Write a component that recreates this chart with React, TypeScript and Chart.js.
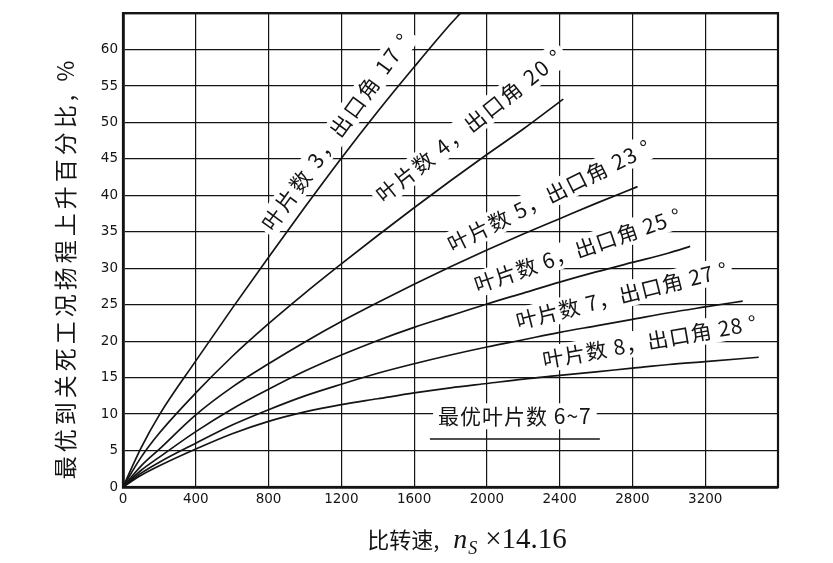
import { useEffect, useRef } from "react"
import { Chart, registerables } from "chart.js"

Chart.register(...registerables)

// specific speed (ns x 14.16) and head rise (%)
const speeds3 = [0, 100, 200, 400, 600, 800, 1000, 1200, 1400, 1600, 1800, 1855]
const rise3 = [0, 5.4, 9.9, 17.3, 24.5, 31.5, 38.4, 45.1, 51.5, 57.6, 63.5, 65]
const speeds4 = [0, 100, 200, 400, 600, 800, 1000, 1200, 1400, 1600, 1800, 2000, 2200, 2420]
const rise4 = [0, 4.1, 7.4, 12.9, 17.9, 22.4, 26.6, 30.6, 34.5, 38.3, 42, 45.6, 49.1, 53.2]
const speeds5 = [0, 100, 200, 400, 600, 800, 1000, 1200, 1400, 1600, 1800, 2000, 2200, 2400, 2600, 2828]
const rise5 = [0, 2.9, 5.2, 9.9, 13.7, 16.9, 19.9, 22.7, 25.3, 27.8, 30.2, 32.5, 34.7, 36.8, 38.9, 41.2]
const speeds6 = [0, 100, 200, 400, 600, 800, 1000, 1200, 1400, 1600, 1800, 2000, 2200, 2400, 2600, 2800, 3000, 3117]
const rise6 = [0, 2.3, 4.1, 7.6, 10.7, 13.4, 15.9, 18.1, 20.1, 21.9, 23.5, 25.1, 26.6, 28.1, 29.5, 30.8, 32.1, 33]
const speeds7 = [0, 100, 200, 400, 600, 800, 1000, 1200, 1400, 1600, 1800, 2000, 2200, 2400, 2600, 2800, 3000, 3200, 3406]
const rise7 = [0, 1.9, 3.4, 6, 8.5, 10.6, 12.5, 14.1, 15.6, 16.9, 18.1, 19.2, 20.2, 21.2, 22.1, 23, 23.9, 24.7, 25.5]
const speeds8 = [0, 100, 200, 400, 600, 800, 1000, 1200, 1400, 1600, 1800, 2000, 2200, 2400, 2600, 2800, 3000, 3200, 3494]
const rise8 = [0, 1.6, 2.9, 5.2, 7.3, 9, 10.3, 11.3, 12.1, 12.9, 13.6, 14.2, 14.8, 15.3, 15.8, 16.3, 16.8, 17.2, 17.8]

const bladeCounts = [3, 4, 5, 6, 7, 8]
const exitAngles = [17, 20, 23, 25, 27, 28]
const bestBlades = "6~7"

const curveSpeeds = [speeds3, speeds4, speeds5, speeds6, speeds7, speeds8]
const curveRises = [rise3, rise4, rise5, rise6, rise7, rise8]

// where each curve label sits (data coords), its slant on screen and letter spacing
const labelSpots = [
  { ns: 1175, rise: 48.8, angle: -54, spacing: 2.5 },
  { ns: 1905, rise: 49.6, angle: -38.5, spacing: 2 },
  { ns: 2345, rise: 40.0, angle: -26.5, spacing: 1.5 },
  { ns: 2500, rise: 32.5, angle: -19, spacing: 1 },
  { ns: 2742, rise: 26.3, angle: -14, spacing: 1 },
  { ns: 2896, rise: 20.0, angle: -10, spacing: 1 },
]

const INK = "#141414"
const CJK = '"Noto Sans CJK SC"'

const annotations = {
  id: "annotations",
  beforeDatasetsDraw(chart: any) {
    const { ctx, scales } = chart
    const x = scales.x
    const y = scales.y

    ctx.save()
    ctx.font = `21px ${CJK}`
    ctx.textAlign = "center"
    ctx.textBaseline = "middle"
    labelSpots.forEach((spot, i) => {
      const text = `叶片数 ${bladeCounts[i]}，出口角 ${exitAngles[i]} °`
      ctx.save()
      ctx.letterSpacing = `${spot.spacing}px`
      ctx.translate(x.getPixelForValue(spot.ns), y.getPixelForValue(spot.rise))
      ctx.rotate((spot.angle * Math.PI) / 180)
      const w = ctx.measureText(text).width
      ctx.fillStyle = "#fff"
      ctx.fillRect(-w / 2 - 4, -13, w + 8, 26)
      ctx.fillStyle = INK
      ctx.fillText(text, 0, 0)
      ctx.restore()
    })

    // best blade count note with its underline
    ctx.letterSpacing = "1px"
    const bx = x.getPixelForValue(2154)
    const by = y.getPixelForValue(9.7)
    const note = `最优叶片数 ${bestBlades}`
    const nw = ctx.measureText(note).width
    ctx.fillStyle = "#fff"
    ctx.fillRect(bx - nw / 2 - 5, by - 13, nw + 10, 26)
    ctx.fillStyle = INK
    ctx.fillText(note, bx, by)
    ctx.strokeStyle = INK
    ctx.lineWidth = 1.5
    ctx.beginPath()
    ctx.moveTo(x.getPixelForValue(1687), y.getPixelForValue(6.6))
    ctx.lineTo(x.getPixelForValue(2621), y.getPixelForValue(6.6))
    ctx.stroke()
    ctx.restore()
  },
  afterDraw(chart: any) {
    const { ctx, chartArea } = chart
    ctx.save()
    // frame
    ctx.strokeStyle = INK
    ctx.lineWidth = 2.2
    ctx.strokeRect(chartArea.left, chartArea.top, chartArea.right - chartArea.left, chartArea.bottom - chartArea.top)

    // y title
    ctx.fillStyle = INK
    ctx.font = `23px ${CJK}`
    ctx.letterSpacing = "4px"
    ctx.textAlign = "center"
    ctx.textBaseline = "middle"
    ctx.translate(65, 268)
    ctx.rotate(-Math.PI / 2)
    ctx.fillText("最优到关死工况扬程上升百分比, %", 0, 0)
    ctx.restore()

    // x title: 比转速, n_S ×14.16
    ctx.save()
    ctx.fillStyle = INK
    ctx.textBaseline = "alphabetic"
    ctx.textAlign = "left"
    const parts = [
      { t: "比转速,", f: `22px ${CJK}`, dy: 0, gap: 14 },
      { t: "n", f: 'italic 28px "Liberation Serif"', dy: 0, gap: 1 },
      { t: "S", f: 'italic 18px "Liberation Serif"', dy: 6, gap: 8 },
      { t: "×14.16", f: '29px "Liberation Serif"', dy: 0, gap: 0 },
    ]
    let total = 0
    parts.forEach((p) => {
      ctx.font = p.f
      total += ctx.measureText(p.t).width + p.gap
    })
    let cx = 467 - total / 2
    parts.forEach((p) => {
      ctx.font = p.f
      ctx.fillText(p.t, cx, 548 + p.dy)
      cx += ctx.measureText(p.t).width + p.gap
    })
    ctx.restore()
  },
}

export default function App() {
  const chartRef = useRef<HTMLCanvasElement>(null)
  const chartInstance = useRef<Chart | null>(null)

  useEffect(() => {
    if (!chartRef.current) return
    if (chartInstance.current) chartInstance.current.destroy()

    chartInstance.current = new Chart(chartRef.current, {
      type: "line",
      data: {
        datasets: curveSpeeds.map((xs, i) => ({
          label: `叶片数 ${bladeCounts[i]}`,
          data: xs.map((v, j) => ({ x: v, y: curveRises[i][j] })),
          borderColor: INK,
          borderWidth: 1.7,
          pointRadius: 0,
          fill: false,
          cubicInterpolationMode: "monotone" as const,
        })),
      },
      options: {
        animation: false,
        responsive: true,
        maintainAspectRatio: false,
        layout: { padding: { left: 0, right: 55, top: 13, bottom: 0 } },
        plugins: {
          legend: { display: false },
          tooltip: { enabled: false },
        },
        scales: {
          x: {
            type: "linear",
            min: 0,
            max: 3600,
            afterFit: (scale: any) => {
              scale.height = 76
            },
            grid: { color: INK, lineWidth: 1.2, drawTicks: false },
            border: { color: INK, width: 2.8 },
            ticks: {
              stepSize: 400,
              padding: 4,
              color: INK,
              font: { family: '"DejaVu Sans"', size: 13.5 },
              maxRotation: 0,
              callback: (v: any) => (v === 3600 ? "" : String(v)),
            },
          },
          y: {
            min: 0,
            max: 65,
            afterFit: (scale: any) => {
              scale.width = 123
            },
            grid: { color: INK, lineWidth: 1.2, drawTicks: false },
            border: { color: INK, width: 2.8 },
            ticks: {
              stepSize: 5,
              padding: 5,
              color: INK,
              font: { family: '"DejaVu Sans"', size: 13.5 },
              callback: (v: any) => (v === 65 ? "" : String(v)),
            },
          },
        },
      },
      plugins: [annotations],
    })

    return () => {
      if (chartInstance.current) {
        chartInstance.current.destroy()
        chartInstance.current = null
      }
    }
  }, [])

  return (
    <div style={{ position: "absolute", left: 0, top: 0, width: 833, height: 563, background: "#fff" }}>
      <canvas ref={chartRef} />
    </div>
  )
}
